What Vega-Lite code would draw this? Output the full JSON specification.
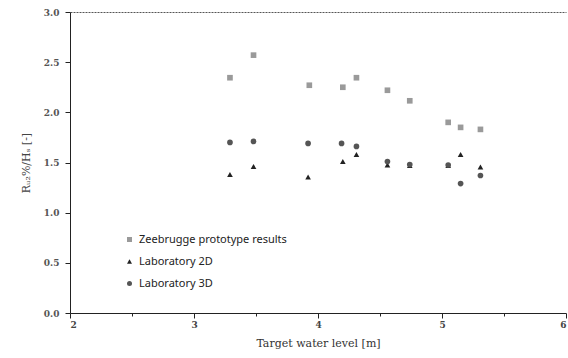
{
  "$schema": "https://vega.github.io/schema/vega-lite/v6.json",
  "width": 496,
  "height": 301,
  "autosize": {"type": "none"},
  "padding": {"left": 70, "top": 12, "right": 2, "bottom": 45},
  "background": "white",
  "config": {"view": {"stroke": null}},
  "data": {
    "values": [
      {"level": 3.29, "ratio": 2.345, "series": "Zeebrugge prototype results"},
      {"level": 3.48, "ratio": 2.57, "series": "Zeebrugge prototype results"},
      {"level": 3.93, "ratio": 2.27, "series": "Zeebrugge prototype results"},
      {"level": 4.20, "ratio": 2.25, "series": "Zeebrugge prototype results"},
      {"level": 4.31, "ratio": 2.345, "series": "Zeebrugge prototype results"},
      {"level": 4.56, "ratio": 2.22, "series": "Zeebrugge prototype results"},
      {"level": 4.74, "ratio": 2.115, "series": "Zeebrugge prototype results"},
      {"level": 5.05, "ratio": 1.90, "series": "Zeebrugge prototype results"},
      {"level": 5.15, "ratio": 1.85, "series": "Zeebrugge prototype results"},
      {"level": 5.31, "ratio": 1.83, "series": "Zeebrugge prototype results"},
      {"level": 3.29, "ratio": 1.38, "series": "Laboratory 2D"},
      {"level": 3.48, "ratio": 1.46, "series": "Laboratory 2D"},
      {"level": 3.92, "ratio": 1.355, "series": "Laboratory 2D"},
      {"level": 4.20, "ratio": 1.51, "series": "Laboratory 2D"},
      {"level": 4.31, "ratio": 1.58, "series": "Laboratory 2D"},
      {"level": 4.56, "ratio": 1.475, "series": "Laboratory 2D"},
      {"level": 4.74, "ratio": 1.47, "series": "Laboratory 2D"},
      {"level": 5.05, "ratio": 1.47, "series": "Laboratory 2D"},
      {"level": 5.15, "ratio": 1.58, "series": "Laboratory 2D"},
      {"level": 5.31, "ratio": 1.455, "series": "Laboratory 2D"},
      {"level": 3.29, "ratio": 1.70, "series": "Laboratory 3D"},
      {"level": 3.48, "ratio": 1.71, "series": "Laboratory 3D"},
      {"level": 3.92, "ratio": 1.69, "series": "Laboratory 3D"},
      {"level": 4.19, "ratio": 1.69, "series": "Laboratory 3D"},
      {"level": 4.31, "ratio": 1.66, "series": "Laboratory 3D"},
      {"level": 4.56, "ratio": 1.51, "series": "Laboratory 3D"},
      {"level": 4.74, "ratio": 1.48, "series": "Laboratory 3D"},
      {"level": 5.05, "ratio": 1.475, "series": "Laboratory 3D"},
      {"level": 5.15, "ratio": 1.29, "series": "Laboratory 3D"},
      {"level": 5.31, "ratio": 1.37, "series": "Laboratory 3D"}
    ]
  },
  "resolve": {"axis": {"x": "independent"}},
  "layer": [
    {
      "mark": {"type": "point", "opacity": 0},
      "encoding": {
        "x": {
          "field": "level", "type": "quantitative",
          "scale": {"domain": [2, 6], "nice": false, "zero": false},
          "axis": {"orient": "top", "title": null, "labels": false, "ticks": false, "grid": false, "domainDash": [2, 1], "domainColor": "#555"}
        },
        "y": {"field": "ratio", "type": "quantitative", "scale": {"domain": [0, 3], "nice": false}}
      }
    },
    {
      "mark": {"type": "point", "filled": true, "size": 32, "opacity": 1},
      "encoding": {
        "x": {
          "field": "level", "type": "quantitative",
          "scale": {"domain": [2, 6], "nice": false, "zero": false},
          "axis": {
            "title": "Target water level [m]",
            "titleFont": "DejaVu Serif", "titleFontSize": 11, "titleFontWeight": "normal", "titleColor": "#333", "titlePadding": 8,
            "values": [2, 2.5, 3, 3.5, 4, 4.5, 5, 5.5, 6],
            "labelExpr": "datum.value % 1 == 0 ? format(datum.value, 'd') : ''",
            "labelFont": "DejaVu Serif", "labelFontSize": 9, "labelFontWeight": "bold", "labelColor": "#444",
            "tickSize": {"condition": {"test": "datum.value % 1 == 0", "value": 5}, "value": 3},
            "tickColor": "#222", "domainColor": "#222", "grid": false, "labelPadding": 2
          }
        },
        "y": {
          "field": "ratio", "type": "quantitative",
          "scale": {"domain": [0, 3], "nice": false},
          "axis": {
            "title": "Rᵤ₂%/Hₛ [-]",
            "titleFont": "DejaVu Serif", "titleFontSize": 11, "titleFontWeight": "normal", "titleColor": "#444", "titlePadding": 12,
            "values": [0, 0.25, 0.5, 0.75, 1, 1.25, 1.5, 1.75, 2, 2.25, 2.5, 2.75, 3],
            "labelExpr": "(datum.value * 2) % 1 == 0 ? format(datum.value, '.1f') : ''",
            "labelFont": "DejaVu Serif", "labelFontSize": 9, "labelFontWeight": "bold", "labelColor": "#555",
            "tickSize": {"condition": {"test": "(datum.value * 2) % 1 == 0", "value": 5}, "value": 3},
            "tickColor": "#222", "domainColor": "#222", "grid": false, "labelPadding": 6
          }
        },
        "shape": {
          "field": "series", "type": "nominal",
          "scale": {"domain": ["Zeebrugge prototype results", "Laboratory 2D", "Laboratory 3D"], "range": ["square", "triangle-up", "circle"]},
          "legend": {
            "title": null, "orient": "none", "legendX": 54, "legendY": 222,
            "labelFont": "Noto Sans", "labelFontSize": 11, "labelColor": "#222",
            "rowPadding": 10, "symbolSize": 25, "labelOffset": 4
          }
        },
        "color": {
          "field": "series", "type": "nominal",
          "scale": {"domain": ["Zeebrugge prototype results", "Laboratory 2D", "Laboratory 3D"], "range": ["#9a9a9a", "#222222", "#555555"]},
          "legend": {
            "title": null, "orient": "none", "legendX": 54, "legendY": 222,
            "labelFont": "Noto Sans", "labelFontSize": 11, "labelColor": "#222",
            "rowPadding": 10, "symbolSize": 25, "labelOffset": 4
          }
        }
      }
    }
  ]
}
